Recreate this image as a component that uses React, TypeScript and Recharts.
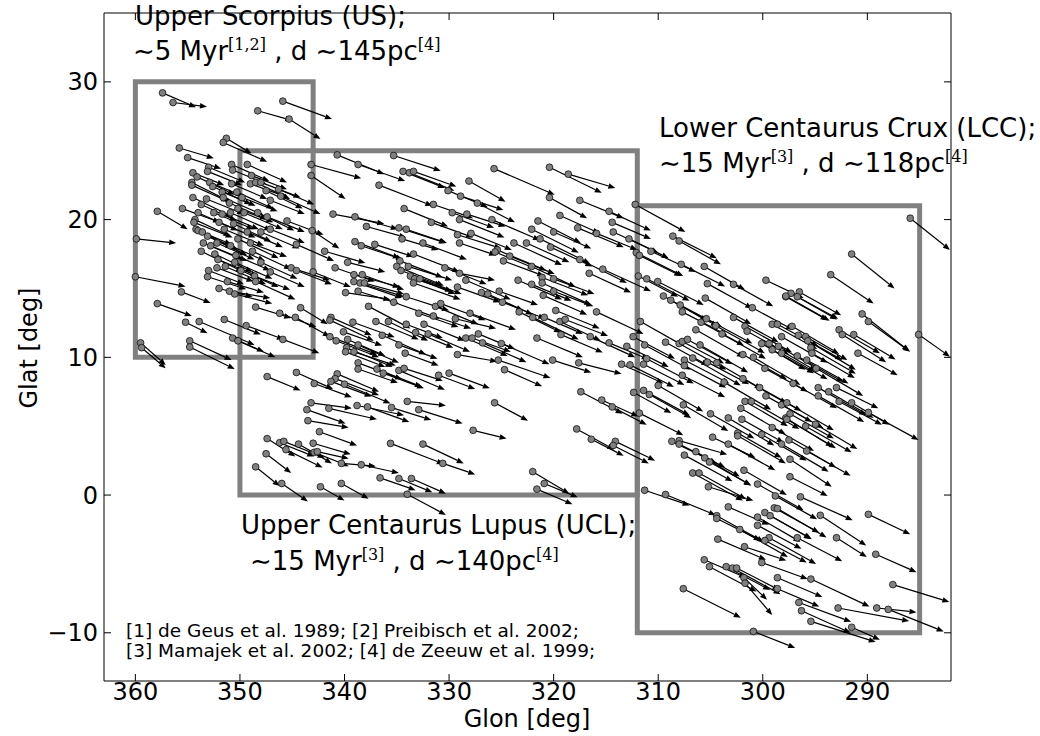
import React from "react";
import { ScatterChart, Scatter, XAxis, YAxis, ReferenceLine, ReferenceArea } from "recharts";

// [glon, glat, arrow dGlon, arrow dGlat] in degrees
type Star = [number, number, number, number];

const usStars: Star[] = [
  [357.4, 29.2, -3.2, -1.05], [356.4, 28.5, -3.25, -0.3], [348.3, 27.9, -3.3, -0.7], [351.3, 25.9, -2.4, -1.1],
  [351.6, 25.6, -4.2, -1.4], [355.8, 25.2, -3.3, -0.75], [355.0, 24.5, -3.2, -0.8], [353.0, 23.8, -3.5, -1.1],
  [350.8, 24.0, -3.6, -1.2], [350.7, 23.6, -3.2, -1.0], [349.3, 24.0, -3.8, -1.3], [348.9, 23.2, -3.4, -1.0],
  [354.5, 23.4, -3.0, -0.9], [354.1, 23.1, -3.6, -1.3], [353.1, 23.5, -3.3, -1.0], [354.6, 22.7, -3.9, -1.5],
  [354.6, 22.5, -3.5, -1.2], [352.9, 22.7, -3.2, -1.0], [352.6, 22.4, -3.7, -1.3], [350.8, 22.6, -3.4, -1.1],
  [349.0, 22.6, -3.6, -1.0], [348.5, 22.7, -3.3, -1.2], [348.0, 22.7, -3.8, -1.1], [347.5, 22.1, -3.5, -1.3],
  [354.5, 21.6, -3.8, -1.4], [353.7, 21.1, -3.4, -1.2], [353.2, 21.5, -3.6, -1.1], [351.7, 22.0, -3.2, -1.0],
  [351.6, 21.6, -3.9, -1.3], [350.3, 22.0, -3.5, -1.2], [347.1, 21.4, -3.3, -1.0], [357.9, 20.6, -2.9, -1.3],
  [355.5, 20.8, -3.6, -1.0], [354.0, 20.5, -3.8, -1.3], [354.3, 20.0, -3.4, -1.2], [354.4, 19.8, -3.7, -1.1],
  [354.2, 19.3, -3.5, -1.4], [354.0, 19.2, -3.2, -1.0], [352.5, 20.5, -3.8, -1.2], [351.7, 20.4, -3.5, -1.1],
  [350.9, 20.5, -3.9, -1.3], [350.2, 20.8, -3.4, -1.0], [349.6, 20.5, -3.7, -1.2], [348.3, 20.5, -3.5, -1.3],
  [347.4, 20.2, -3.6, -1.1], [347.1, 19.3, -3.3, -1.0], [351.5, 19.3, -3.8, -1.2], [350.6, 19.7, -3.6, -1.3],
  [349.3, 19.1, -3.4, -1.1], [348.0, 19.1, -3.7, -1.2], [349.0, 18.3, -3.5, -1.0], [350.2, 18.6, -3.9, -1.4],
  [350.9, 18.1, -3.3, -1.1], [352.2, 18.3, -3.6, -1.2], [353.1, 18.8, -3.8, -1.4], [353.6, 19.1, -3.4, -1.3],
  [353.5, 18.3, -3.7, -1.2], [352.8, 18.1, -3.5, -1.1], [353.7, 17.7, -4.0, -1.5], [352.4, 17.5, -3.6, -1.3],
  [352.1, 17.1, -3.8, -1.2], [352.2, 16.5, -3.5, -1.0], [351.4, 16.6, -3.9, -1.3], [350.4, 17.4, -3.3, -1.1],
  [349.9, 16.3, -3.6, -1.2], [348.6, 15.9, -3.4, -1.0], [348.5, 15.5, -3.8, -1.3], [348.0, 16.9, -3.5, -1.2],
  [347.1, 16.2, -3.3, -1.1], [359.9, 18.6, -3.8, -0.3], [360.0, 15.85, -4.8, -0.7], [353.1, 15.85, -3.7, -0.9],
  [351.2, 15.5, -3.5, -0.8], [352.0, 15.0, -3.2, -0.6], [351.0, 14.8, -3.9, -0.5], [350.5, 14.6, -3.6, -0.7],
  [348.5, 13.65, -3.4, -0.8], [355.6, 14.75, -2.8, -0.8], [357.9, 13.9, -3.3, -0.9], [355.2, 12.55, -2.1, -0.8],
  [353.9, 12.6, -5.3, -1.7], [351.5, 12.75, -3.5, -1.1], [349.4, 12.3, -3.6, -1.0], [350.7, 11.4, -3.0, -1.0],
  [350.2, 11.2, -3.6, -1.2], [354.8, 11.2, -4.0, -1.4], [354.8, 10.75, -4.3, -1.6], [359.5, 11.05, -2.4, -1.6],
  [359.4, 10.7, -2.3, -1.5], [346.3, 22.2, -3.4, -1.1], [346.1, 21.7, -3.8, -1.3], [345.5, 19.9, -3.5, -1.0],
  [344.6, 18.2, -3.6, -1.2], [345.1, 16.5, -3.7, -0.9], [344.6, 16.3, -3.4, -1.0], [343.0, 16.2, -3.6, -1.1],
  [344.2, 13.6, -2.6, -1.2], [346.2, 13.2, -3.5, -1.0], [344.7, 12.9, -3.3, -1.4], [345.9, 11.3, -3.5, -1.0],
  [345.9, 28.6, -4.7, -1.3], [345.3, 27.3, -3.0, -1.45], [343.1, 19.2, -2.6, -1.3], [351.0, 21.2, -3.6, -1.2],
  [352.0, 19.8, -3.5, -1.1], [349.8, 21.6, -3.4, -1.0], [348.8, 17.7, -3.7, -1.3], [350.5, 16.9, -3.6, -1.2],
  [353.0, 16.3, -3.4, -1.0],
];

const uclStars: Star[] = [
  [340.7, 24.7, -4.5, -1.4], [338.7, 24.0, -4.5, -1.2], [335.3, 24.65, -4.5, -1.1], [343.2, 24.0, -4.8, -1.0],
  [343.2, 23.2, -3.3, -1.7], [334.4, 23.5, -4.0, -1.2], [333.8, 23.4, -4.3, -1.3], [333.4, 23.5, -4.1, -1.1],
  [336.7, 22.5, -5.1, -1.5], [331.5, 21.1, -3.8, -1.0], [334.3, 20.8, -4.2, -1.3], [331.7, 19.8, -4.0, -1.1],
  [341.1, 20.4, -4.9, -0.7], [339.0, 20.2, -4.1, -0.9], [337.9, 19.5, -3.8, -0.8], [334.8, 19.4, -4.5, -1.1],
  [334.1, 19.3, -3.9, -1.0], [339.0, 18.4, -4.3, -1.2], [338.4, 18.1, -4.0, -1.0], [337.1, 18.2, -3.7, -0.9],
  [334.5, 18.6, -3.5, -0.8], [332.5, 18.3, -4.2, -1.2], [341.9, 17.7, -3.9, -0.85], [333.4, 17.5, -4.4, -1.3],
  [339.7, 16.9, -3.6, -0.7], [340.9, 16.5, -3.8, -1.0], [334.7, 17.0, -4.1, -1.2], [335.0, 16.6, -4.5, -1.4],
  [334.6, 16.3, -3.9, -1.1], [333.9, 16.6, -4.2, -1.0], [339.1, 16.0, -4.4, -0.9], [338.3, 16.0, -4.0, -1.1],
  [339.1, 15.5, -4.6, -1.2], [338.5, 15.4, -4.2, -1.0], [338.1, 15.4, -3.8, -0.8], [333.7, 15.9, -4.3, -1.3],
  [333.3, 15.7, -3.6, -0.9], [332.8, 15.7, -4.0, -1.1], [333.4, 15.4, -4.5, -1.2], [339.9, 14.7, -4.3, -0.5],
  [338.7, 14.8, -3.9, -0.9], [334.1, 14.4, -4.1, -1.0], [337.7, 13.7, -4.0, -1.6], [335.3, 14.0, -4.4, -1.2],
  [332.9, 13.2, -3.8, -1.0], [331.5, 13.0, -3.6, -0.9], [331.3, 13.7, -4.1, -1.3], [330.8, 13.9, -4.3, -1.2],
  [341.3, 12.9, -3.9, -1.3], [341.4, 12.7, -4.2, -1.5], [339.2, 12.55, -4.0, -1.1], [340.1, 11.85, -3.7, -1.0],
  [337.0, 12.6, -4.1, -1.3], [335.8, 12.6, -3.8, -1.4], [334.1, 12.4, -3.5, -1.0], [332.4, 12.4, -3.9, -1.2],
  [341.4, 11.5, -4.5, -1.3], [340.8, 11.2, -4.1, -1.2], [339.8, 10.7, -4.4, -1.4], [339.9, 10.4, -3.8, -1.1],
  [339.1, 10.4, -4.0, -1.0], [339.7, 11.3, -3.6, -1.2], [338.7, 10.9, -3.9, -1.3], [336.4, 11.6, -4.2, -1.4],
  [334.8, 10.9, -3.7, -1.0], [334.2, 10.3, -3.2, -0.9], [333.2, 11.8, -3.6, -1.1], [332.0, 11.7, -4.0, -1.3],
  [338.7, 9.6, -4.2, -1.2], [338.7, 9.15, -3.8, -1.0], [336.9, 9.15, -4.3, -1.3], [336.3, 8.85, -3.9, -1.1],
  [334.8, 9.05, -4.4, -1.4], [334.3, 9.2, -3.7, -0.9], [344.6, 8.9, -3.5, -1.2], [340.7, 8.8, -4.0, -1.3],
  [325.7, 23.7, -5.8, -1.9], [320.4, 23.8, -5.0, -1.85], [318.6, 23.3, -4.5, -1.0], [328.1, 22.8, -3.5, -1.5],
  [330.1, 22.1, -3.8, -1.2], [328.9, 21.7, -4.1, -1.0], [327.3, 21.2, -3.6, -1.4], [320.4, 21.6, -3.6, -1.5],
  [317.5, 21.4, -4.2, -1.3], [314.7, 20.6, -4.0, -1.4], [314.4, 19.8, -3.7, -1.2], [314.3, 19.1, -4.3, -1.5],
  [329.7, 20.5, -4.0, -1.1], [328.3, 20.4, -3.7, -0.9], [329.0, 20.0, -4.3, -1.3], [325.9, 20.0, -4.6, -1.5],
  [321.5, 19.9, -4.1, -1.6], [319.4, 20.3, -3.8, -1.3], [317.7, 19.4, -4.4, -1.4], [315.9, 19.0, -3.9, -1.2],
  [322.1, 19.3, -4.5, -1.7], [320.0, 19.1, -3.6, -1.2], [321.3, 18.6, -4.8, -1.8], [320.3, 18.0, -4.0, -1.4],
  [329.2, 18.9, -4.2, -1.0], [327.9, 19.0, -3.9, -1.2], [329.0, 18.3, -3.5, -0.9], [323.8, 18.3, -4.6, -1.6],
  [322.6, 18.3, -4.1, -1.4], [325.4, 17.8, -4.7, -1.5], [325.6, 17.65, -3.8, -1.2], [324.2, 17.35, -4.3, -1.3],
  [324.8, 17.0, -3.9, -1.1], [317.5, 17.1, -4.5, -1.7], [322.1, 16.6, -4.2, -1.5], [316.6, 16.1, -4.0, -1.4],
  [315.3, 16.4, -4.6, -1.6], [330.4, 16.5, -4.0, -1.2], [329.0, 16.1, -3.4, -0.5], [328.4, 15.6, -4.3, -1.4],
  [329.2, 15.1, -4.1, -1.1], [323.4, 15.6, -4.2, -1.4], [322.1, 15.3, -3.8, -1.2], [321.1, 15.8, -4.4, -1.3],
  [321.1, 15.4, -4.7, -1.6], [320.0, 15.7, -3.9, -1.1], [326.9, 14.7, -4.0, -1.3], [326.3, 14.6, -4.3, -1.5],
  [325.2, 14.8, -3.7, -1.0], [324.9, 14.0, -4.1, -1.2], [321.0, 14.5, -4.2, -1.4], [320.0, 14.8, -3.8, -1.1],
  [328.0, 13.2, -4.4, -1.2], [329.4, 12.8, -3.9, -0.7], [323.3, 13.3, -4.0, -1.5], [322.0, 12.9, -4.4, -1.6],
  [320.9, 12.9, -3.7, -1.2], [319.8, 13.4, -4.2, -1.3], [319.4, 12.6, -3.9, -1.4], [318.9, 12.75, -4.1, -1.2],
  [315.9, 13.3, -4.5, -1.6], [327.2, 11.7, -3.5, -1.1], [328.4, 11.4, -4.0, -1.3], [327.8, 11.4, -3.7, -1.0],
  [326.8, 11.05, -4.2, -1.4], [325.0, 11.0, -4.6, -1.5], [329.2, 10.2, -3.8, -0.5], [325.3, 9.8, -5.0, -1.3],
  [324.7, 9.1, -3.6, -1.2], [321.6, 11.4, -4.4, -1.4], [319.3, 11.65, -4.0, -1.3], [316.5, 11.5, -4.3, -1.5],
  [314.7, 11.05, -3.8, -1.2], [320.1, 9.8, -3.7, -0.9], [317.6, 9.6, -4.1, -0.8], [330.0, 8.85, -3.9, -1.1],
  [340.9, 8.45, -4.2, -1.2], [341.3, 8.25, -3.9, -1.1], [340.0, 8.05, -4.4, -1.4], [342.9, 8.1, -3.6, -1.0],
  [343.2, 6.7, -3.9, -0.4], [343.6, 6.2, -3.7, -1.0], [341.5, 6.3, -4.6, -0.8], [343.5, 5.4, -3.9, -0.5],
  [342.4, 4.6, -3.6, -1.0], [338.8, 6.5, -4.5, -0.7], [337.8, 6.4, -4.0, -1.1], [335.5, 6.35, -3.8, -0.9],
  [334.0, 6.8, -3.7, -0.3], [332.9, 6.2, -4.2, -1.0], [331.0, 8.7, -3.5, -1.0], [346.2, 3.8, -3.3, -1.0],
  [345.8, 3.9, -3.9, -1.2], [345.6, 3.3, -3.5, -1.3], [344.4, 3.7, -3.2, -1.4], [343.0, 3.76, -3.6, -0.8],
  [342.9, 3.1, -3.3, -1.0], [342.6, 3.15, -3.0, -0.5], [340.3, 2.3, -3.3, -0.2], [338.4, 2.2, -3.6, -0.6],
  [335.6, 3.75, -5.1, -1.5], [332.5, 3.7, -3.9, -1.4], [330.6, 2.3, -3.1, -0.8], [346.0, 0.84, -2.5, -1.3],
  [342.3, 0.6, -2.3, -1.0], [340.3, 0.84, -2.6, -1.1], [336.6, 1.25, -3.4, -0.9], [334.8, 1.2, -3.2, -1.0],
  [333.6, 1.2, -3.3, -1.1], [334.0, 0.06, -3.7, -1.5], [347.4, 8.6, -3.2, -1.0], [347.4, 4.1, -2.7, -1.3],
  [347.5, 3.0, -2.4, -1.4], [348.5, 2.05, -2.3, -1.4], [325.65, 6.7, -3.2, -1.3], [327.7, 4.7, -3.2, -0.6],
  [317.4, 7.5, -4.0, -1.6], [315.4, 6.9, -3.5, -1.2], [314.4, 6.4, -3.3, -1.3], [317.8, 4.8, -3.6, -1.5],
  [316.4, 4.05, -3.1, -1.2], [314.1, 3.9, -3.8, -1.4], [314.3, 3.6, -3.4, -1.3], [322.0, 1.7, -3.5, -1.6],
  [320.9, 0.84, -3.2, -1.0], [321.6, 0.43, -3.4, -1.1],
];

const lccStars: Star[] = [
  [312.2, 21.1, -4.8, -2.0], [308.6, 18.8, -4.2, -1.6], [308.0, 18.45, -4.0, -1.7], [312.8, 18.6, -3.8, -1.4],
  [310.7, 17.7, -4.3, -1.5], [312.1, 17.6, -4.5, -1.7], [311.8, 17.4, -4.0, -1.5], [307.8, 16.75, -4.2, -1.6],
  [305.6, 16.6, -3.9, -1.7], [311.9, 15.9, -3.8, -1.5], [311.1, 15.7, -4.1, -1.6], [310.05, 15.5, -4.4, -1.7],
  [302.8, 15.3, -3.8, -1.6], [305.3, 15.35, -4.3, -1.8], [299.7, 15.6, -3.6, -1.3], [297.8, 14.4, -4.0, -1.7],
  [309.5, 14.45, -4.2, -1.8], [308.8, 14.15, -4.5, -1.9], [307.9, 13.8, -4.0, -1.6], [307.7, 13.3, -4.3, -1.7],
  [305.5, 14.3, -4.4, -1.9], [301.0, 13.6, -3.9, -1.6], [302.8, 12.9, -4.3, -1.8], [311.7, 12.6, -4.2, -1.8],
  [312.4, 11.5, -4.0, -1.6], [306.4, 12.0, -4.6, -2.0], [305.9, 12.55, -4.1, -1.7], [305.4, 12.8, -4.4, -1.8],
  [304.5, 12.3, -4.7, -2.0], [303.9, 11.7, -4.2, -1.8], [301.7, 12.25, -4.5, -1.9], [301.5, 11.9, -4.0, -1.7],
  [299.1, 12.4, -4.3, -1.8], [298.6, 12.4, -3.9, -1.6], [298.2, 11.5, -4.4, -1.9], [309.3, 11.1, -4.1, -1.7],
  [308.0, 11.0, -4.5, -1.9], [307.7, 11.15, -4.0, -1.6], [307.2, 11.3, -4.3, -1.8], [306.0, 10.9, -4.6, -2.0],
  [313.0, 10.8, -4.0, -1.5], [311.3, 10.9, -4.4, -1.8], [301.9, 10.2, -4.2, -1.8], [300.9, 10.0, -4.5, -2.0],
  [299.8, 9.2, -4.1, -1.7], [304.4, 9.6, -4.3, -1.9], [305.3, 9.65, -4.0, -1.6], [306.7, 9.95, -4.6, -2.0],
  [313.5, 9.5, -4.0, -1.4], [312.7, 9.45, -4.2, -1.6], [311.1, 9.9, -4.5, -1.8], [311.4, 9.5, -3.9, -1.5],
  [300.1, 11.0, -4.2, -1.9], [299.4, 11.0, -4.5, -2.0], [299.1, 10.55, -4.0, -1.7], [298.2, 10.3, -4.4, -1.9],
  [298.5, 10.8, -4.1, -1.8], [307.5, 9.8, -4.3, -1.7], [307.5, 9.4, -4.0, -1.6], [285.9, 20.1, -3.8, -2.3],
  [291.5, 17.5, -4.1, -2.5], [293.5, 16.0, -4.1, -2.1], [290.5, 13.15, -4.5, -2.7], [289.9, 12.6, -4.0, -2.2],
  [285.1, 11.65, -3.0, -1.6], [296.5, 14.75, -4.0, -1.7], [297.3, 14.65, -4.4, -1.9], [297.8, 14.45, -4.2, -1.8],
  [296.7, 14.4, -3.9, -1.6], [297.2, 12.25, -4.5, -2.0], [296.6, 11.6, -4.2, -1.8], [295.9, 11.5, -4.0, -1.7],
  [295.7, 11.2, -4.6, -2.1], [295.4, 10.7, -4.3, -1.9], [295.3, 10.3, -4.1, -1.8], [296.7, 10.1, -4.4, -1.9],
  [295.8, 9.8, -4.0, -1.7], [294.9, 9.2, -4.5, -2.0], [292.7, 12.0, -3.9, -1.7], [292.4, 11.65, -4.2, -2.0],
  [291.3, 11.65, -4.0, -1.8], [290.9, 10.3, -3.8, -1.6], [312.35, 7.45, -3.6, -1.5], [311.8, 5.95, -4.2, -1.6],
  [311.4, 7.6, -4.4, -1.8], [310.85, 7.3, -4.0, -1.7], [310.0, 7.96, -4.3, -1.9], [307.7, 8.7, -4.1, -1.6],
  [307.6, 6.55, -4.3, -1.9], [303.7, 8.2, -4.5, -2.0], [301.9, 8.45, -4.2, -1.8], [300.3, 7.8, -4.0, -1.7],
  [299.7, 7.2, -4.4, -1.9], [301.7, 6.8, -4.1, -1.8], [301.1, 6.8, -4.6, -2.0], [302.1, 6.3, -4.3, -1.9],
  [298.2, 6.55, -4.0, -1.7], [297.8, 5.6, -4.5, -2.1], [305.0, 5.9, -4.2, -1.8], [303.3, 5.6, -4.4, -2.0],
  [302.0, 5.5, -4.0, -1.7], [308.7, 3.9, -4.3, -1.6], [308.0, 3.95, -4.6, -1.0], [308.0, 3.7, -4.4, -1.7],
  [304.8, 4.2, -4.1, -1.5], [303.3, 3.7, -4.5, -1.9], [302.4, 4.5, -4.2, -1.8], [302.4, 4.3, -4.6, -2.0],
  [299.1, 4.9, -4.0, -1.7], [300.1, 4.4, -4.3, -1.9], [298.2, 3.7, -4.5, -2.0], [307.5, 2.9, -4.6, -1.9],
  [306.4, 3.15, -4.2, -1.8], [305.55, 2.7, -4.4, -2.0], [305.1, 2.4, -4.0, -1.7], [306.7, 1.6, -4.8, -2.0],
  [306.1, 1.6, -4.5, -1.9], [305.2, 0.6, -4.3, -1.0], [301.8, 1.8, -4.1, -1.8], [300.5, 0.8, -4.4, -1.9],
  [298.8, -0.06, -4.0, -1.7], [311.3, 0.35, -4.3, -1.1], [309.3, 0.04, -4.8, -1.5], [303.3, -0.86, -3.9, -1.3],
  [304.4, -1.5, -4.5, -1.9], [304.4, -1.7, -4.2, -1.6], [302.2, -2.5, -4.6, -2.0], [300.5, -1.6, -4.1, -1.8],
  [299.8, -1.27, -4.4, -1.9], [299.3, -1.5, -4.0, -1.7], [298.9, -0.93, -4.3, -1.8], [298.6, -0.98, -4.7, -2.1],
  [300.5, -2.2, -4.2, -1.7], [299.4, -3.1, -4.5, -1.9], [299.8, -3.3, -4.0, -1.6], [304.3, -3.2, -4.6, -1.5],
  [301.75, -3.75, -4.0, -1.0], [300.1, -4.9, -4.4, -1.2], [305.6, -4.7, -4.0, -1.3], [305.1, -5.2, -4.5, -1.8],
  [303.5, -5.2, -4.2, -1.7], [302.9, -5.3, -4.6, -1.9], [302.5, -5.3, -4.1, -1.6], [301.8, -6.0, -2.2, -1.6],
  [301.7, -6.4, -2.6, -2.3], [298.6, -6.0, -4.3, -1.4], [298.6, -6.8, -4.0, -1.3], [307.6, -6.8, -5.5, -2.1],
  [300.9, -9.9, -4.0, -1.2], [297.1, 8.1, -4.2, -1.8], [294.7, 7.8, -4.6, -2.0], [293.7, 7.5, -4.3, -1.9],
  [292.95, 7.8, -4.0, -1.5], [294.7, 7.2, -4.4, -1.9], [292.7, 6.8, -4.1, -1.7], [291.5, 6.7, -3.6, -1.6],
  [289.9, 6.0, -4.8, -2.0], [297.7, 6.7, -4.5, -2.0], [297.4, 5.9, -4.2, -1.8], [297.7, 5.5, -4.7, -2.1],
  [295.9, 5.0, -4.4, -1.9], [294.96, 5.14, -4.0, -1.8], [297.5, 4.0, -4.5, -2.0], [295.8, 3.2, -4.2, -1.8],
  [297.4, 2.6, -4.0, -2.0], [297.4, 1.33, -3.6, -1.4], [296.4, -0.13, -5.0, -1.7], [294.5, -1.47, -4.4, -2.2],
  [289.9, -1.4, -4.0, -1.45], [296.7, -3.1, -4.3, -1.7], [292.95, -3.1, -2.9, -1.4], [289.2, -4.3, -3.9, -1.3],
  [295.4, -6.1, -5.6, -2.0], [287.56, -6.5, -5.4, -1.26], [296.55, -7.8, -5.0, -1.4], [296.3, -8.4, -4.7, -1.6],
  [295.4, -9.17, -6.2, -1.5], [292.8, -8.2, -6.8, -0.95], [289.1, -8.2, -3.8, -0.3], [288.0, -8.3, -5.3, -1.6],
  [291.5, -9.6, -2.7, -0.9],
];

const xTicks = [360, 350, 340, 330, 320, 310, 300, 290];
const yTicks = [-10, 0, 10, 20, 30];

// association boxes: [glon from, glon to, glat from, glat to]
const boxes: [number, number, number, number][] = [
  [360, 343, 10, 30],
  [350, 312, 0, 25],
  [312, 285, -10, 21],
];

const allStars = [...usStars, ...uclStars, ...lccStars];
const points = allStars.map(([l, b]) => ({ x: l, y: b }));

const FONT = "DejaVu Sans";

function Arrow(props: any) {
  const { x1, y1, x2, y2, clipPath } = props;
  const dx = x2 - x1;
  const dy = y2 - y1;
  const len = Math.hypot(dx, dy) || 1;
  const ux = dx / len;
  const uy = dy / len;
  const hl = 7;
  const hw = 2.8;
  const bx = x2 - ux * hl;
  const by = y2 - uy * hl;
  return (
    <g clipPath={clipPath}>
      <line x1={x1} y1={y1} x2={bx} y2={by} stroke="#000" strokeWidth={1.2} />
      <polygon
        points={`${x2},${y2} ${bx - uy * hw},${by + ux * hw} ${bx + uy * hw},${by - ux * hw}`}
        fill="#000"
      />
    </g>
  );
}

const StarDot = (props: any) => (
  <circle cx={props.cx} cy={props.cy} r={3.4} fill="#808080" stroke="#000" strokeWidth={0.7} />
);
const NoDot = () => <g />;

const fmt = (v: number) => (v < 0 ? `\u2212${Math.abs(v)}` : `${v}`);

const BottomTick = ({ x, y, payload }: any) => (
  <g>
    <line x1={x} y1={y} x2={x} y2={y - 7} stroke="#000" />
    <text x={x} y={y + 19} textAnchor="middle" fontSize={24} fontFamily={FONT} fill="#000">
      {payload.value}
    </text>
  </g>
);
const TopTick = ({ x, y }: any) => <line x1={x} y1={y} x2={x} y2={y + 7} stroke="#000" />;
const LeftTick = ({ x, y, payload }: any) => (
  <g>
    <line x1={x} y1={y} x2={x + 7} y2={y} stroke="#000" />
    <text x={x - 6} y={y + 8.5} textAnchor="end" fontSize={24} fontFamily={FONT} fill="#000">
      {fmt(payload.value)}
    </text>
  </g>
);
const RightTick = ({ x, y }: any) => <line x1={x} y1={y} x2={x - 7} y2={y} stroke="#000" />;

const sup = (s: string) => (
  <tspan dy={-10} fontSize={16} fontFamily="DejaVu Serif">
    {s}
  </tspan>
);

export default function App() {
  return (
    <div style={{ position: "absolute", left: 0, top: 0, width: 1040, height: 736, background: "#fff" }}>
      <ScatterChart width={1040} height={736} margin={{ top: 12, right: 88, bottom: 0, left: 0 }}>
        <XAxis
          type="number"
          dataKey="x"
          domain={[282, 363]}
          reversed
          allowDataOverflow
          ticks={xTicks}
          height={55}
          tickSize={0}
          tickMargin={0}
          tickLine={false}
          axisLine={{ stroke: "#000" }}
          tick={BottomTick}
          interval={0}
        />
        <XAxis
          xAxisId="top"
          orientation="top"
          type="number"
          dataKey="x"
          domain={[282, 363]}
          reversed
          allowDataOverflow
          ticks={xTicks}
          height={1}
          tickSize={0}
          tickMargin={0}
          tickLine={false}
          axisLine={{ stroke: "#000" }}
          tick={TopTick}
          interval={0}
        />
        <YAxis
          type="number"
          dataKey="y"
          domain={[-13.5, 35]}
          allowDataOverflow
          ticks={yTicks}
          width={104}
          tickSize={0}
          tickMargin={0}
          tickLine={false}
          axisLine={{ stroke: "#000" }}
          tick={LeftTick}
          interval={0}
        />
        <YAxis
          yAxisId="right"
          orientation="right"
          type="number"
          dataKey="y"
          domain={[-13.5, 35]}
          allowDataOverflow
          ticks={yTicks}
          width={1}
          tickSize={0}
          tickMargin={0}
          tickLine={false}
          axisLine={{ stroke: "#000" }}
          tick={RightTick}
          interval={0}
        />
        {boxes.map(([x1, x2, y1, y2], i) => (
          <ReferenceArea
            key={`box-${i}`}
            x1={x1}
            x2={x2}
            y1={y1}
            y2={y2}
            fill="none"
            fillOpacity={0}
            stroke="#808080"
            strokeWidth={5}
            strokeOpacity={1}
          />
        ))}
        {allStars.map(([l, b, dl, db], i) => (
          <ReferenceLine
            key={`pm-${i}`}
            segment={[
              { x: l, y: b },
              { x: l + dl, y: b + db },
            ]}
            ifOverflow="hidden"
            stroke="#000"
            shape={Arrow}
          />
        ))}
        <Scatter data={points} shape={StarDot} isAnimationActive={false} />
        <Scatter xAxisId="top" yAxisId="right" data={points} shape={NoDot} isAnimationActive={false} />
      </ScatterChart>
      <svg
        width={1040}
        height={736}
        style={{ position: "absolute", left: 0, top: 0, pointerEvents: "none" }}
        fontFamily={FONT}
        fill="#000"
      >
        <text x={135} y={25} fontSize={26}>Upper Scorpius (US);</text>
        <text x={133} y={60} fontSize={26}>
          {"\u223C5 Myr"}
          {sup("[1,2]")}
          <tspan dy={10}>{" , d \u223C145pc"}</tspan>
          {sup("[4]")}
        </text>
        <text x={659} y={137} fontSize={26}>Lower Centaurus Crux (LCC);</text>
        <text x={659} y={172} fontSize={26}>
          {"\u223C15 Myr"}
          {sup("[3]")}
          <tspan dy={10}>{" , d \u223C118pc"}</tspan>
          {sup("[4]")}
        </text>
        <text x={241} y={534} fontSize={26}>Upper Centaurus Lupus (UCL);</text>
        <text x={250} y={570} fontSize={26}>
          {"\u223C15 Myr"}
          {sup("[3]")}
          <tspan dy={10}>{" , d \u223C140pc"}</tspan>
          {sup("[4]")}
        </text>
        <text x={126} y={637} fontSize={18.5}>[1] de Geus et al. 1989; [2] Preibisch et al. 2002;</text>
        <text x={126} y={657} fontSize={18.5}>[3] Mamajek et al. 2002; [4] de Zeeuw et al. 1999;</text>
        <text x={527} y={727} fontSize={24} textAnchor="middle">Glon [deg]</text>
        <text transform="translate(37,348) rotate(-90)" fontSize={24} textAnchor="middle">Glat [deg]</text>
      </svg>
    </div>
  );
}
